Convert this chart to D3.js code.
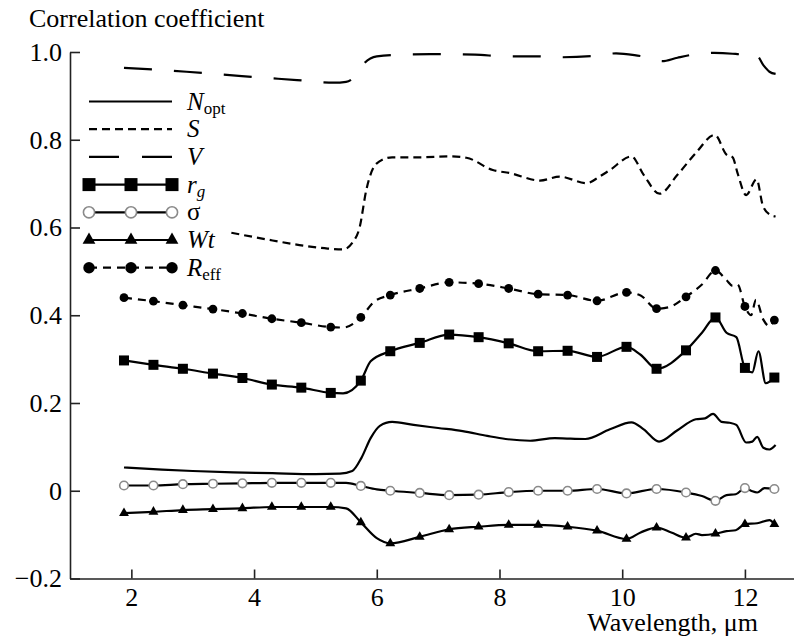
<!DOCTYPE html>
<html>
<head>
<meta charset="utf-8">
<script src="https://cdn.jsdelivr.net/npm/d3@7"></script>
</head>
<body style="margin:0">
<svg width="794" height="640"></svg>
<script>

  // tick labels
  const xTicks = [2, 4, 6, 8, 10, 12];
  const yTicks = [-0.2, 0, 0.2, 0.4, 0.6, 0.8, 1.0];

  // wavelengths where the marker symbols sit
  const markerWl = [1.88, 2.36, 2.84, 3.33, 3.81, 4.29, 4.77, 5.25, 5.74, 6.22, 6.70, 7.18,
                    7.66, 8.15, 8.63, 9.11, 9.59, 10.07, 10.56, 11.04, 11.52, 12.00, 12.48];

  // N_opt
  const wlNopt = [1.88, 2.5, 3.0, 3.66, 4.3, 5.0, 5.4, 5.6, 5.75, 5.9, 6.05, 6.25, 6.6, 7.0, 7.4, 7.8,
                  8.1, 8.5, 8.9, 9.1, 9.4, 9.8, 10.15, 10.35, 10.6, 10.9, 11.2, 11.35, 11.48, 11.62,
                  11.75, 11.86, 12.02, 12.12, 12.2, 12.3, 12.4, 12.5];
  const nopt = [0.053, 0.048, 0.045, 0.042, 0.040, 0.038, 0.039, 0.045, 0.075, 0.120, 0.148, 0.157,
                0.150, 0.143, 0.136, 0.125, 0.118, 0.114, 0.120, 0.119, 0.118, 0.140, 0.156, 0.140,
                0.112, 0.138, 0.163, 0.165, 0.175, 0.157, 0.155, 0.150, 0.110, 0.112, 0.123, 0.098,
                0.094, 0.104];

  // S
  const wlS = [3.63, 4.2, 4.74, 5.2, 5.45, 5.6, 5.72, 5.83, 5.99, 6.25, 6.7, 7.19, 7.46, 7.89, 8.17,
               8.66, 8.98, 9.42, 9.63, 9.8, 10.15, 10.35, 10.61, 10.9, 11.2, 11.51, 11.7, 11.8,
               11.88, 12.02, 12.19, 12.29, 12.4, 12.5];
  const sVal = [0.588, 0.573, 0.560, 0.552, 0.550, 0.565, 0.600, 0.686, 0.745, 0.760, 0.760, 0.762,
                0.759, 0.731, 0.724, 0.707, 0.716, 0.701, 0.716, 0.731, 0.762, 0.720, 0.677, 0.720,
                0.770, 0.811, 0.766, 0.760, 0.724, 0.674, 0.710, 0.651, 0.630, 0.625];

  // V
  const wlV = [1.88, 2.9, 3.8, 4.7, 5.3, 5.5, 5.65, 5.8, 6.0, 6.4, 7.0, 7.6, 8.1, 8.6, 9.0, 9.6,
               9.9, 10.2, 10.5, 10.65, 10.9, 11.2, 11.5, 11.8, 12.0, 12.1, 12.2, 12.3, 12.4, 12.5];
  const vVal = [0.964, 0.955, 0.945, 0.936, 0.930, 0.932, 0.945, 0.975, 0.990, 0.994, 0.995, 0.994,
                0.990, 0.990, 0.988, 0.992, 0.997, 0.993, 0.985, 0.979, 0.987, 0.995, 0.998, 0.996,
                0.993, 0.985, 0.990, 0.970, 0.955, 0.950];

  // r_g
  const wlRg = [1.88, 2.36, 2.84, 3.33, 3.81, 4.29, 4.77, 5.25, 5.45, 5.74, 5.90, 6.22, 6.70, 7.18,
                7.66, 8.15, 8.63, 9.11, 9.59, 10.07, 10.30, 10.56, 11.04, 11.30, 11.52, 11.70, 11.86,
                12.00, 12.12, 12.22, 12.34, 12.48];
  const rg = [0.297, 0.287, 0.278, 0.267, 0.257, 0.242, 0.235, 0.223, 0.222, 0.251, 0.295, 0.318,
              0.337, 0.356, 0.350, 0.336, 0.318, 0.319, 0.305, 0.328, 0.310, 0.278, 0.320, 0.360,
              0.395, 0.360, 0.350, 0.280, 0.270, 0.318, 0.245, 0.258];

  // sigma
  const wlSigma = [1.88, 2.36, 2.84, 3.33, 3.81, 4.29, 4.77, 5.25, 5.50, 5.74, 6.00, 6.22, 6.70, 7.18,
                   7.66, 8.15, 8.63, 9.11, 9.59, 10.07, 10.56, 11.04, 11.30, 11.52, 11.70, 11.85,
                   12.00, 12.10, 12.20, 12.32, 12.48];
  const sigma = [0.012, 0.012, 0.015, 0.016, 0.017, 0.018, 0.018, 0.018, 0.018, 0.011, 0.003, 0.000,
                 -0.005, -0.010, -0.009, -0.003, 0.000, 0.000, 0.004, -0.006, 0.004, -0.004, -0.012,
                 -0.023, -0.010, -0.008, 0.006, 0.000, -0.004, 0.006, 0.004];

  // Wt
  const wlWt = [1.88, 2.36, 2.84, 3.33, 3.81, 4.29, 4.77, 5.25, 5.50, 5.74, 6.00, 6.22, 6.70, 7.18,
                7.66, 8.15, 8.63, 9.11, 9.59, 10.07, 10.30, 10.56, 10.80, 11.04, 11.20, 11.30, 11.52,
                11.70, 11.85, 12.00, 12.20, 12.40, 12.48];
  const wt = [-0.051, -0.048, -0.044, -0.042, -0.040, -0.037, -0.037, -0.037, -0.040, -0.072, -0.108,
              -0.120, -0.105, -0.088, -0.082, -0.078, -0.078, -0.082, -0.091, -0.110, -0.095, -0.084,
              -0.095, -0.107, -0.098, -0.101, -0.098, -0.092, -0.090, -0.076, -0.074, -0.067, -0.076];

  // R_eff
  const wlReff = [1.88, 2.36, 2.84, 3.33, 3.81, 4.29, 4.77, 5.25, 5.45, 5.74, 5.95, 6.22, 6.70, 7.18,
                  7.66, 8.15, 8.63, 9.11, 9.59, 10.07, 10.30, 10.56, 10.75, 11.04, 11.30, 11.52, 11.70,
                  11.80, 11.88, 12.00, 12.10, 12.18, 12.30, 12.40, 12.48];
  const reff = [0.440, 0.432, 0.423, 0.414, 0.404, 0.392, 0.383, 0.373, 0.372, 0.395, 0.430, 0.446,
                0.461, 0.475, 0.472, 0.461, 0.448, 0.446, 0.433, 0.452, 0.445, 0.415, 0.418, 0.442,
                0.470, 0.502, 0.480, 0.467, 0.470, 0.420, 0.400, 0.435, 0.390, 0.375, 0.389];

  const series = [
    {key: 'nopt',  wl: wlNopt,  val: nopt,  dash: null,    marker: null},
    {key: 's',     wl: wlS,     val: sVal,  dash: '8,5',   marker: null},
    {key: 'v',     wl: wlV,     val: vVal,  dash: '28,22', marker: null},
    {key: 'rg',    wl: wlRg,    val: rg,    dash: null,    marker: 'square'},
    {key: 'sigma', wl: wlSigma, val: sigma, dash: null,    marker: 'ring'},
    {key: 'wt',    wl: wlWt,    val: wt,    dash: null,    marker: 'triangle'},
    {key: 'reff',  wl: wlReff,  val: reff,  dash: '8,6',   marker: 'dot'}
  ];

  const labels = {
    nopt:  [{t: 'N', it: true}, {t: 'opt', sub: true}],
    s:     [{t: 'S', it: true}],
    v:     [{t: 'V', it: true}],
    rg:    [{t: 'r', it: true}, {t: 'g', it: true, sub: true}],
    sigma: [{t: 'σ'}],
    wt:    [{t: 'Wt', it: true}],
    reff:  [{t: 'R', it: true}, {t: 'eff', sub: true}]
  };

  const serif = '"Liberation Serif"';
  const svg = d3.select('svg');

  let x = d3.scaleLinear().domain([1, 12.8]).range([70, 794]);
  let y = d3.scaleLinear().domain([-0.2, 1.0]).range([578.5, 52]);

  function fmtY(d) {
    if (d === 0) return '0';
    return d.toFixed(1).replace('-', '\u2212');
  }

  let xAxis = svg.append('g')
    .attr('transform', `translate(0,${y(-0.2)})`)
    .call(d3.axisBottom(x).tickValues(xTicks).tickSizeInner(-9).tickSizeOuter(0)
      .tickPadding(9).tickFormat(d3.format('d')));

  let yAxis = svg.append('g')
    .attr('transform', `translate(${x(1)},0)`)
    .call(d3.axisLeft(y).tickValues(yTicks).tickSizeInner(-10).tickSizeOuter(0)
      .tickPadding(8).tickFormat(fmtY));

  [xAxis, yAxis].forEach(function(g) {
    g.attr('font-size', 26).style('font-family', serif);
    g.select('.domain').attr('stroke', '#222').attr('stroke-width', 1.6);
    g.selectAll('.tick line').attr('stroke', '#222').attr('stroke-width', 1.6);
    g.selectAll('.tick text').attr('fill', '#000').style('font-family', serif);
  });

  svg.append('text')
    .attr('x', 29).attr('y', 27)
    .attr('font-size', 26)
    .style('font-family', serif)
    .text('Correlation coefficient');

  svg.append('text')
    .attr('x', 758).attr('y', 631)
    .attr('text-anchor', 'end')
    .attr('font-size', 26)
    .style('font-family', serif)
    .text('Wavelength, \u03bcm');

  let line = d3.line()
    .x(d => x(d[0]))
    .y(d => y(d[1]))
    .curve(d3.curveMonotoneX);

  function drawMarker(g, type, cx, cy, big) {
    let k = big ? 1.3 : 1;
    if (type === 'square') {
      let s = 10 * k;
      g.append('rect').attr('x', cx - s/2).attr('y', cy - s/2)
        .attr('width', s).attr('height', s).attr('fill', '#000');
    } else if (type === 'ring') {
      g.append('circle').attr('cx', cx).attr('cy', cy).attr('r', 4.3 * k)
        .attr('fill', '#fff').attr('stroke', '#8a8a8a').attr('stroke-width', 1.6);
    } else if (type === 'triangle') {
      g.append('path').attr('d', d3.symbol(d3.symbolTriangle, 42 * k * k)())
        .attr('transform', `translate(${cx},${cy})`).attr('fill', '#000');
    } else if (type === 'dot') {
      g.append('circle').attr('cx', cx).attr('cy', cy).attr('r', 4.4 * k).attr('fill', '#000');
    }
  }

  let plot = svg.append('g');

  series.forEach(function(s) {
    let pts = s.wl.map((w, i) => [w, s.val[i]]);
    plot.append('path')
      .datum(pts)
      .attr('d', line)
      .attr('fill', 'none')
      .attr('stroke', '#000')
      .attr('stroke-width', 2.2)
      .attr('stroke-dasharray', s.dash);
    if (s.marker) {
      pts.filter(p => markerWl.some(m => Math.abs(m - p[0]) < 0.005))
        .forEach(p => drawMarker(plot, s.marker, x(p[0]), y(p[1]), false));
    }
  });

  // legend
  let legend = svg.append('g');
  series.forEach(function(s, i) {
    let ly = 101.5 + i * 27.7;
    legend.append('line')
      .attr('x1', 89).attr('x2', 172).attr('y1', ly).attr('y2', ly)
      .attr('stroke', '#000').attr('stroke-width', 2.2)
      .attr('stroke-dasharray', s.key === 'v' ? '30,23' : s.dash);
    if (s.marker) {
      [89, 131, 172].forEach(mx => drawMarker(legend, s.marker, mx, ly, true));
    }
    let t = legend.append('text')
      .attr('x', 187).attr('y', ly + 8)
      .attr('font-size', 25)
      .style('font-family', serif);
    labels[s.key].forEach(function(part) {
      let ts = t.append('tspan').text(part.t)
        .style('font-style', part.it ? 'italic' : 'normal');
      if (part.sub) ts.attr('font-size', 17).attr('dy', '0.28em');
    });
  });

</script>
</body>
</html>
